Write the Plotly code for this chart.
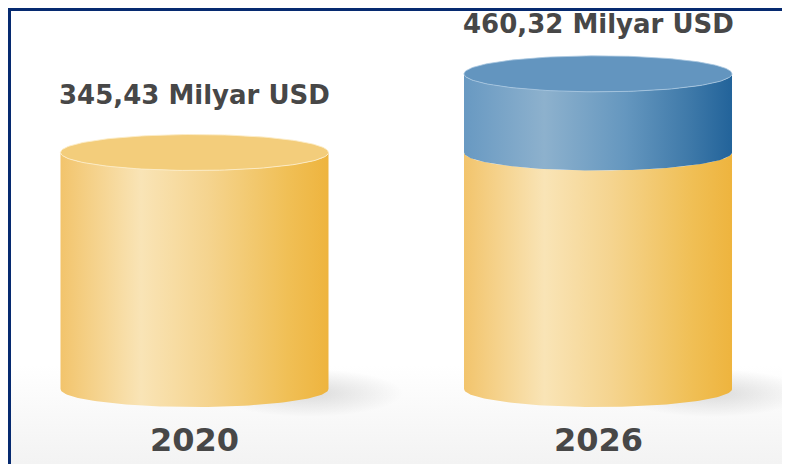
import numpy as np
import plotly.graph_objects as go

# ---------------- data ----------------
categories = ["2020", "2026"]
base_values = [345.43, 345.43]      # yellow part (2020 market size)
total_values = [345.43, 460.32]     # full cylinder height
value_labels = ["345,43 Milyar USD", "460,32 Milyar USD"]

# ---------------- style ----------------
# page body has an 8px margin, so the figure is sized to fit the window
W, H = 782, 456
x_range = [-0.4622, 1.4758]
y_range = [-109.55, 556.5]
px_y = H / (y_range[1] - y_range[0])
px_x = W / (x_range[1] - x_range[0])
half_w = 134 / px_x
ry = 18 / px_y

yellow_scale = [[0, "#f2c46c"], [0.08, "#f4cd80"], [0.3, "#f9e4b6"], [0.55, "#f5d48f"],
                [0.85, "#f0bf55"], [1, "#eeb43e"]]
blue_scale = [[0, "#6899c2"], [0.3, "#8db1cd"], [0.6, "#6597bf"], [0.85, "#3d78a8"], [1, "#22639a"]]
yellow_top = "#f3cd7b"
blue_top = "#6395bf"
text_color = "#474747"
label_shift = [58, 50]
frame_color = "#062a70"

N = 80


def body(c, v0, v1):
    t = np.linspace(np.pi, 0, N)
    xs = list(c + half_w * np.cos(t))
    ys = list(v0 - ry * np.sin(t))
    t2 = np.linspace(0, np.pi, N)
    xs += list(c + half_w * np.cos(t2))
    ys += list(v1 - ry * np.sin(t2))
    xs.append(xs[0]); ys.append(ys[0])
    return xs, ys


def ellipse(cx, cy, rx, ryy):
    t = np.linspace(0, 2 * np.pi, 2 * N)
    return list(cx + rx * np.cos(t)), list(cy + ryy * np.sin(t))


fig = go.Figure()

# background bottom gradient
bg_top = y_range[0] + (H - 357) / px_y
fig.add_trace(go.Scatter(
    x=[x_range[0], x_range[1], x_range[1], x_range[0], x_range[0]],
    y=[y_range[0], y_range[0], bg_top, bg_top, y_range[0]],
    fill="toself", mode="lines", line=dict(width=0),
    fillgradient=dict(type="vertical", colorscale=[[0, "#f3f3f3"], [1, "#ffffff"]]),
    hoverinfo="skip", showlegend=False))

for i, cat in enumerate(categories):
    c = i
    sx, sy = ellipse(c + half_w * 0.85, -4 / px_y, 95 / px_x, 24 / px_y)
    fig.add_trace(go.Scatter(
        x=sx, y=sy, fill="toself", mode="lines", line=dict(width=0),
        fillgradient=dict(type="radial", colorscale=[[0, "rgba(0,0,0,0.13)"], [1, "rgba(0,0,0,0)"]]),
        hoverinfo="skip", showlegend=False))

for i, cat in enumerate(categories):
    c = i
    bx, by = body(c, 0, base_values[i])
    fig.add_trace(go.Scatter(
        x=bx, y=by, fill="toself", mode="lines", line=dict(width=0),
        fillgradient=dict(type="horizontal", colorscale=yellow_scale),
        hoverinfo="skip", showlegend=False))
    if total_values[i] > base_values[i]:
        ux, uy = body(c, base_values[i], total_values[i])
        fig.add_trace(go.Scatter(
            x=ux, y=uy, fill="toself", mode="lines", line=dict(width=0),
            fillgradient=dict(type="horizontal", colorscale=blue_scale),
            hoverinfo="skip", showlegend=False))
        top_col, rim = blue_top, "rgba(170,200,225,0.8)"
    else:
        top_col, rim = yellow_top, "rgba(252,236,200,0.9)"
    tx, ty = ellipse(c, total_values[i], half_w, ry)
    fig.add_trace(go.Scatter(
        x=tx, y=ty, fill="toself", mode="lines", line=dict(width=1, color=rim),
        fillcolor=top_col, hoverinfo="skip", showlegend=False))

annotations = []
for i, cat in enumerate(categories):
    annotations.append(dict(
        x=i, y=total_values[i], xref="x", yref="y", text=value_labels[i],
        showarrow=False, yshift=label_shift[i], yanchor="middle",
        font=dict(family="DejaVu Sans", size=26, color=text_color, weight="bold")))
    annotations.append(dict(
        x=i, y=0, xref="x", yref="y", text=cat,
        showarrow=False, yshift=-51, yanchor="middle",
        font=dict(family="DejaVu Sans", size=32, color=text_color, weight="bold")))

shapes = [
    dict(type="line", xref="paper", yref="paper", x0=0, x1=1, y0=1 - 1.5 / H, y1=1 - 1.5 / H,
         line=dict(color=frame_color, width=3)),
    dict(type="line", xref="paper", yref="paper", x0=1.5 / W, x1=1.5 / W, y0=0, y1=1,
         line=dict(color=frame_color, width=3)),
]

fig.update_layout(
    width=W, height=H, margin=dict(l=0, r=0, t=0, b=0),
    paper_bgcolor="white", plot_bgcolor="rgba(0,0,0,0)",
    xaxis=dict(range=x_range, visible=False, fixedrange=True),
    yaxis=dict(range=y_range, visible=False, fixedrange=True),
    annotations=annotations, shapes=shapes, showlegend=False)

fig.write_html("out.html")
